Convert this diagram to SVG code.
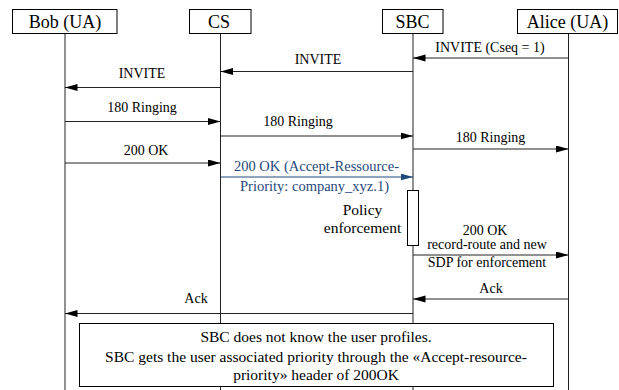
<svg xmlns="http://www.w3.org/2000/svg" width="619" height="390" viewBox="0 0 619 390" font-family="'Liberation Serif', 'DejaVu Serif', serif">
<defs>
<style>
text{font-family:'Liberation Serif','DejaVu Serif',serif}
.hdr{fill:#fff;stroke:#000;stroke-width:1}
.hdrt{font-size:18px;fill:#000;text-anchor:middle}
.life{stroke:#222;stroke-width:1;fill:none}
.msg{stroke:#222;stroke-width:1;fill:none;marker-end:url(#ah)}
.msgb{stroke:#1F497D;stroke-width:1;fill:none;marker-end:url(#ahb)}
.lbl{font-size:14px;fill:#000;text-anchor:middle}
.lblb{font-size:14.5px;fill:#1F497D;text-anchor:middle}
.big{font-size:15.5px;fill:#000;text-anchor:middle}
</style>
<marker id="ah" markerUnits="userSpaceOnUse" markerWidth="13" markerHeight="8" refX="12.5" refY="3.5" orient="auto"><path d="M0,0 L12.5,3.5 L0,7 z" fill="#000"/></marker>
<marker id="ahb" markerUnits="userSpaceOnUse" markerWidth="13" markerHeight="8" refX="12.5" refY="3.5" orient="auto"><path d="M0,0 L12.5,3.5 L0,7 z" fill="#1F497D"/></marker>
</defs>
<rect width="619" height="390" fill="#fff"/>
<g id="lifelines">
<line class="life" x1="65" y1="33" x2="65" y2="390"/>
<line class="life" x1="220.5" y1="33" x2="220.5" y2="390"/>
<line class="life" x1="413" y1="33" x2="413" y2="390"/>
<line class="life" x1="568.5" y1="33" x2="568.5" y2="390"/>
</g>
<g id="bob"><rect class="hdr" x="12.5" y="9.5" width="104.5" height="24"/><text class="hdrt" x="65" y="28">Bob (UA)</text></g>
<g id="cs"><rect class="hdr" x="189.5" y="9.5" width="61.5" height="24"/><text class="hdrt" x="219" y="28">CS</text></g>
<g id="sbc"><rect class="hdr" x="382.5" y="9.5" width="60.5" height="24"/><text class="hdrt" x="412.5" y="28">SBC</text></g>
<g id="alice"><rect class="hdr" x="517.5" y="9.5" width="100" height="24"/><text class="hdrt" x="567.5" y="28">Alice (UA)</text></g>
<g id="activation"><rect x="407.5" y="190.5" width="11" height="55" fill="#fff" stroke="#000" stroke-width="1"/></g>
<g id="connectors">
<line class="msg" x1="568.5" y1="58" x2="413" y2="58"/>
<line class="msg" x1="413" y1="71.5" x2="220.5" y2="71.5"/>
<line class="msg" x1="220.5" y1="87.5" x2="65" y2="87.5"/>
<line class="msg" x1="65" y1="121.5" x2="220.5" y2="121.5"/>
<line class="msg" x1="220.5" y1="136" x2="413" y2="136"/>
<line class="msg" x1="413" y1="149" x2="568.5" y2="149"/>
<line class="msg" x1="65" y1="163" x2="220.5" y2="163"/>
<line class="msgb" x1="220.5" y1="177" x2="413" y2="177"/>
<line class="msg" x1="413" y1="255" x2="568.5" y2="255"/>
<line class="msg" x1="568.5" y1="299" x2="413" y2="299"/>
<line class="msg" x1="413" y1="313.5" x2="65" y2="313.5"/>
</g>
<g id="labels">
<text class="lbl" x="490" y="52">INVITE (Cseq = 1)</text>
<text class="lbl" x="318" y="64">INVITE</text>
<text class="lbl" x="142" y="78">INVITE</text>
<text class="lbl" x="142" y="112">180 Ringing</text>
<text class="lbl" x="298" y="126">180 Ringing</text>
<text class="lbl" x="490.5" y="142">180 Ringing</text>
<text class="lbl" x="146" y="155">200 OK</text>
<text class="lblb" x="316.5" y="171">200 OK (Accept-Ressource-</text>
<text class="lblb" x="314.5" y="191">Priority: company_xyz.1)</text>
<text class="big" x="362.5" y="215">Policy</text>
<text class="big" x="362.5" y="233">enforcement</text>
<text class="lbl" x="485" y="235">200 OK</text>
<text class="lbl" x="487" y="249" font-size="14.4">record-route and new</text>
<text class="lbl" x="487" y="267" font-size="14.4">SDP for enforcement</text>
<text class="lbl" x="491" y="293">Ack</text>
<text class="lbl" x="196" y="303">Ack</text>
</g>
<g id="note">
<rect x="79.5" y="323.5" width="474" height="63" fill="#fff" stroke="#000" stroke-width="1"/>
<text class="big" x="316" y="342">SBC does not know the user profiles.</text>
<text class="big" x="316" y="362">SBC gets the user associated priority through the «Accept-resource-</text>
<text class="big" x="316" y="380">priority» header of 200OK</text>
</g>
</svg>
